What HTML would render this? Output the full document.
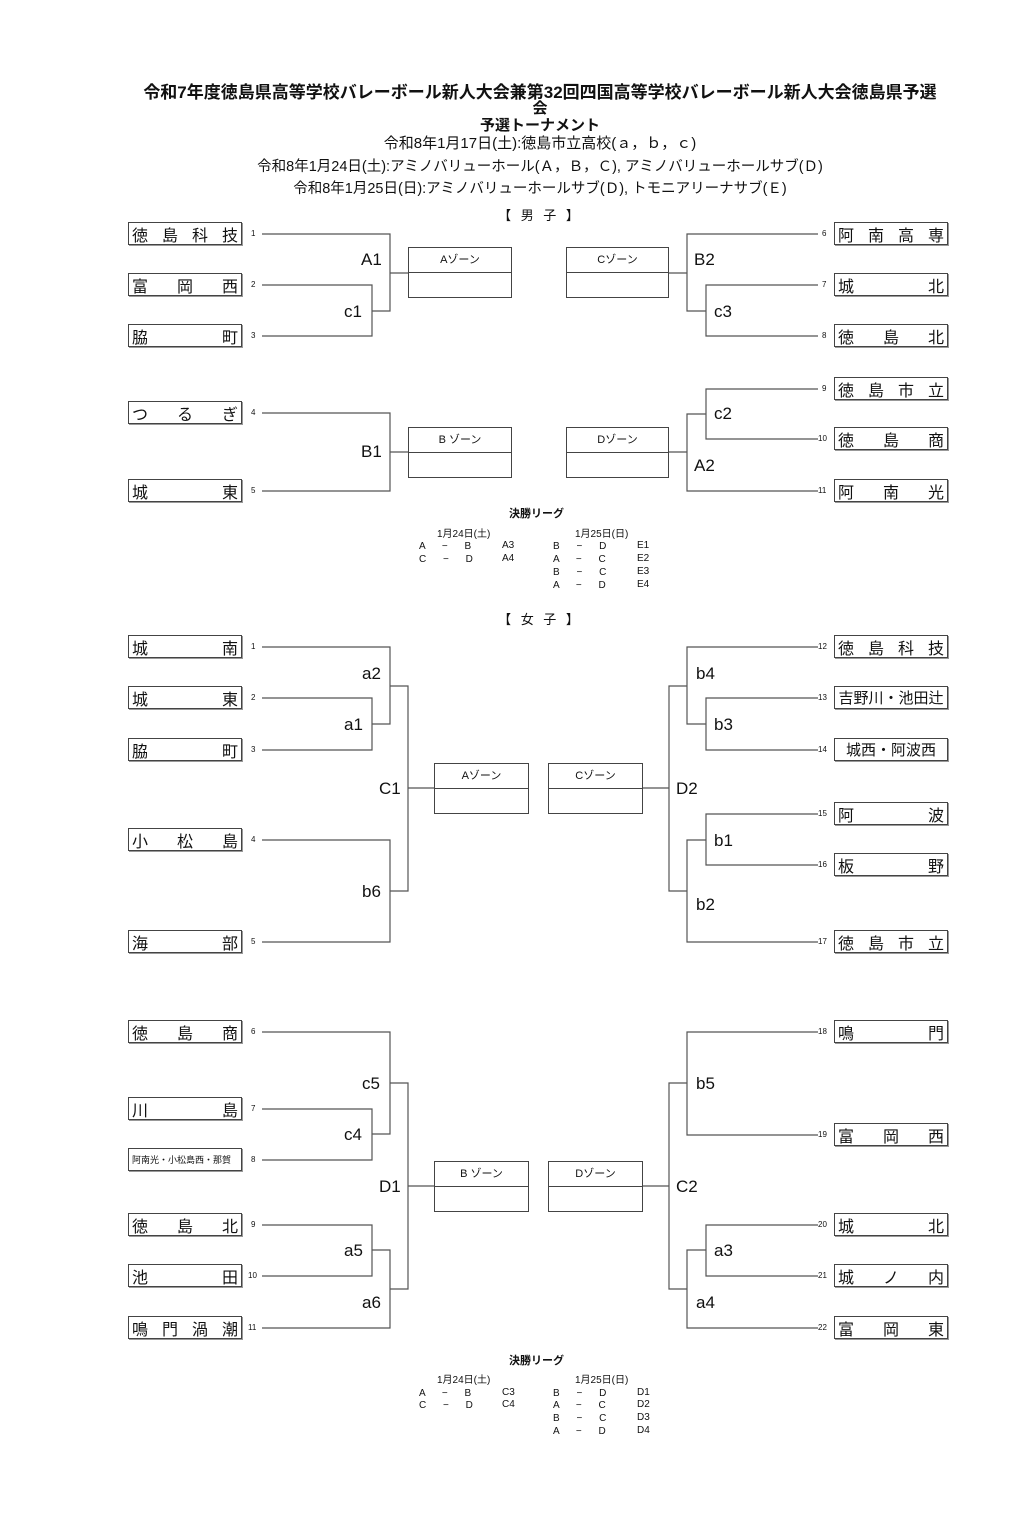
<!DOCTYPE html>
<html><head><meta charset="utf-8"><style>
body{margin:0;background:#fff;}
#p{position:relative;width:1018px;height:1513px;font-family:"Liberation Sans","Noto Sans CJK JP",sans-serif;color:#111;}
.t{position:absolute;white-space:nowrap;}
.c{position:absolute;left:0;width:1080px;text-align:center;white-space:nowrap;}
.b{position:absolute;width:114px;height:23px;border:1px solid #444;box-shadow:1px 1px 0 #999;display:flex;justify-content:space-between;align-items:center;padding:0 3px;box-sizing:border-box;font-size:16px;}
.n{position:absolute;font-size:8px;}
.l{position:absolute;font-size:17px;}
.z{position:absolute;border:1px solid #444;font-size:11px;text-align:center;box-sizing:border-box;}
.z div{height:50%;border-bottom:1px solid #444;line-height:24px;box-sizing:border-box;}
.s{position:absolute;font-size:10px;}
</style></head><body><div id="p">
<div class="c" style="top:78px;font-size:17px;font-weight:bold;">令和7年度徳島県高等学校バレーボール新人大会兼第32回四国高等学校バレーボール新人大会徳島県予選</div>
<div class="c" style="top:97px;font-size:15px;font-weight:bold;">会</div>
<div class="c" style="top:114px;font-size:15px;font-weight:bold;">予選トーナメント</div>
<div class="c" style="top:132px;font-size:15px;">令和8年1月17日(土):徳島市立高校(ａ，ｂ，ｃ)</div>
<div class="c" style="top:155px;font-size:14.5px;">令和8年1月24日(土):アミノバリューホール(Ａ，Ｂ，Ｃ), アミノバリューホールサブ(Ｄ)</div>
<div class="c" style="top:177px;font-size:14.5px;">令和8年1月25日(日):アミノバリューホールサブ(Ｄ), トモニアリーナサブ(Ｅ)</div>
<div class="c" style="top:205px;font-size:13px;letter-spacing:3px">【 男 子 】</div>
<div class="c" style="top:609px;font-size:13px;letter-spacing:3px">【 女 子 】</div>

<svg style="position:absolute;left:0;top:0" width="1018" height="1513" fill="none" stroke="#555" stroke-width="1.2">
<path d="M262 234H390V311H372M262 285H372V336H262M390 273H408"/>
<path d="M262 413H390V491H262M390 452H408"/>
<path d="M818 234H687V311H706M818 285H706V336H818M687 273H669"/>
<path d="M818 389H706V439H818M706 414H687V491H818M687 452H669"/>
<path d="M262 647H390V724H372M262 698H372V750H262"/>
<path d="M262 840H390V942H262"/>
<path d="M390 686H408V891H390M408 788H434"/>
<path d="M818 647H687V724H706M818 698H706V750H818"/>
<path d="M818 814H706V865H818M706 840H687V942H818"/>
<path d="M687 686H669V891H687M669 788H643"/>
<path d="M262 1032H390V1134H372M262 1109H372V1160H262"/>
<path d="M262 1225H372V1276H262M372 1250H390V1328H262"/>
<path d="M390 1083H408V1289H390M408 1186H434"/>
<path d="M818 1032H687V1135H818"/>
<path d="M818 1225H706V1276H818M706 1250H687V1328H818"/>
<path d="M687 1083H669V1289H687M669 1186H643"/>
</svg>

<div class="b" style="left:128px;top:222px"><span>徳</span><span>島</span><span>科</span><span>技</span></div>
<div class="b" style="left:128px;top:273px"><span>富</span><span>岡</span><span>西</span></div>
<div class="b" style="left:128px;top:324px"><span>脇</span><span>町</span></div>
<div class="b" style="left:128px;top:401px"><span>つ</span><span>る</span><span>ぎ</span></div>
<div class="b" style="left:128px;top:479px"><span>城</span><span>東</span></div>
<div class="n" style="left:251px;top:229px">1</div><div class="n" style="left:251px;top:280px">2</div><div class="n" style="left:251px;top:331px">3</div><div class="n" style="left:251px;top:408px">4</div><div class="n" style="left:251px;top:486px">5</div>
<div class="b" style="left:834px;top:222px"><span>阿</span><span>南</span><span>高</span><span>専</span></div>
<div class="b" style="left:834px;top:273px"><span>城</span><span>北</span></div>
<div class="b" style="left:834px;top:324px"><span>徳</span><span>島</span><span>北</span></div>
<div class="b" style="left:834px;top:377px"><span>徳</span><span>島</span><span>市</span><span>立</span></div>
<div class="b" style="left:834px;top:427px"><span>徳</span><span>島</span><span>商</span></div>
<div class="b" style="left:834px;top:479px"><span>阿</span><span>南</span><span>光</span></div>
<div class="n" style="left:822px;top:229px">6</div><div class="n" style="left:822px;top:280px">7</div><div class="n" style="left:822px;top:331px">8</div><div class="n" style="left:822px;top:384px">9</div><div class="n" style="left:818px;top:434px">10</div><div class="n" style="left:818px;top:486px">11</div>
<div class="l" style="left:361px;top:250px">A1</div><div class="l" style="left:344px;top:302px">c1</div><div class="l" style="left:361px;top:442px">B1</div>
<div class="l" style="left:694px;top:250px">B2</div><div class="l" style="left:714px;top:302px">c3</div><div class="l" style="left:714px;top:404px">c2</div><div class="l" style="left:694px;top:456px">A2</div>
<div class="z" style="left:408px;top:247px;width:104px;height:51px"><div>Aゾーン</div></div>
<div class="z" style="left:566px;top:247px;width:103px;height:51px"><div>Cゾーン</div></div>
<div class="z" style="left:408px;top:427px;width:104px;height:51px"><div>B ゾーン</div></div>
<div class="z" style="left:566px;top:427px;width:103px;height:51px"><div>Dゾーン</div></div>

<div class="t" style="left:509px;top:505px;font-size:11px;font-weight:bold">決勝リーグ</div>
<div class="s" style="left:437px;top:525px">1月24日(土)</div><div class="s" style="left:575px;top:525px">1月25日(日)</div>
<div class="s" style="left:419px;top:541px;word-spacing:14px">A − B</div><div class="s" style="left:502px;top:540px">A3</div>
<div class="s" style="left:419px;top:554px;word-spacing:14px">C − D</div><div class="s" style="left:502px;top:553px">A4</div>
<div class="s" style="left:553px;top:541px;word-spacing:14px">B − D</div><div class="s" style="left:637px;top:540px">E1</div>
<div class="s" style="left:553px;top:554px;word-spacing:14px">A − C</div><div class="s" style="left:637px;top:553px">E2</div>
<div class="s" style="left:553px;top:567px;word-spacing:14px">B − C</div><div class="s" style="left:637px;top:566px">E3</div>
<div class="s" style="left:553px;top:580px;word-spacing:14px">A − D</div><div class="s" style="left:637px;top:579px">E4</div>

<div class="b" style="left:128px;top:635px"><span>城</span><span>南</span></div>
<div class="b" style="left:128px;top:686px"><span>城</span><span>東</span></div>
<div class="b" style="left:128px;top:738px"><span>脇</span><span>町</span></div>
<div class="b" style="left:128px;top:828px"><span>小</span><span>松</span><span>島</span></div>
<div class="b" style="left:128px;top:930px"><span>海</span><span>部</span></div>
<div class="n" style="left:251px;top:642px">1</div><div class="n" style="left:251px;top:693px">2</div><div class="n" style="left:251px;top:745px">3</div><div class="n" style="left:251px;top:835px">4</div><div class="n" style="left:251px;top:937px">5</div>
<div class="b" style="left:834px;top:635px"><span>徳</span><span>島</span><span>科</span><span>技</span></div>
<div class="b" style="left:834px;top:686px;font-size:15px;justify-content:center">吉野川・池田辻</div>
<div class="b" style="left:834px;top:738px;font-size:15px;justify-content:center">城西・阿波西</div>
<div class="b" style="left:834px;top:802px"><span>阿</span><span>波</span></div>
<div class="b" style="left:834px;top:853px"><span>板</span><span>野</span></div>
<div class="b" style="left:834px;top:930px"><span>徳</span><span>島</span><span>市</span><span>立</span></div>
<div class="n" style="left:818px;top:642px">12</div><div class="n" style="left:818px;top:693px">13</div><div class="n" style="left:818px;top:745px">14</div><div class="n" style="left:818px;top:809px">15</div><div class="n" style="left:818px;top:860px">16</div><div class="n" style="left:818px;top:937px">17</div>
<div class="l" style="left:362px;top:664px">a2</div><div class="l" style="left:344px;top:715px">a1</div><div class="l" style="left:379px;top:779px">C1</div><div class="l" style="left:362px;top:882px">b6</div>
<div class="l" style="left:696px;top:664px">b4</div><div class="l" style="left:714px;top:715px">b3</div><div class="l" style="left:676px;top:779px">D2</div><div class="l" style="left:714px;top:831px">b1</div><div class="l" style="left:696px;top:895px">b2</div>
<div class="z" style="left:434px;top:763px;width:95px;height:51px"><div>Aゾーン</div></div>
<div class="z" style="left:548px;top:763px;width:95px;height:51px"><div>Cゾーン</div></div>

<div class="b" style="left:128px;top:1020px"><span>徳</span><span>島</span><span>商</span></div>
<div class="b" style="left:128px;top:1097px"><span>川</span><span>島</span></div>
<div class="b" style="left:128px;top:1148px;font-size:9px;justify-content:flex-start">阿南光・小松島西・那賀</div>
<div class="b" style="left:128px;top:1213px"><span>徳</span><span>島</span><span>北</span></div>
<div class="b" style="left:128px;top:1264px"><span>池</span><span>田</span></div>
<div class="b" style="left:128px;top:1316px"><span>鳴</span><span>門</span><span>渦</span><span>潮</span></div>
<div class="n" style="left:251px;top:1027px">6</div><div class="n" style="left:251px;top:1104px">7</div><div class="n" style="left:251px;top:1155px">8</div><div class="n" style="left:251px;top:1220px">9</div><div class="n" style="left:248px;top:1271px">10</div><div class="n" style="left:248px;top:1323px">11</div>
<div class="b" style="left:834px;top:1020px"><span>鳴</span><span>門</span></div>
<div class="b" style="left:834px;top:1123px"><span>富</span><span>岡</span><span>西</span></div>
<div class="b" style="left:834px;top:1213px"><span>城</span><span>北</span></div>
<div class="b" style="left:834px;top:1264px"><span>城</span><span>ノ</span><span>内</span></div>
<div class="b" style="left:834px;top:1316px"><span>富</span><span>岡</span><span>東</span></div>
<div class="n" style="left:818px;top:1027px">18</div><div class="n" style="left:818px;top:1130px">19</div><div class="n" style="left:818px;top:1220px">20</div><div class="n" style="left:818px;top:1271px">21</div><div class="n" style="left:818px;top:1323px">22</div>
<div class="l" style="left:362px;top:1074px">c5</div><div class="l" style="left:344px;top:1125px">c4</div><div class="l" style="left:379px;top:1177px">D1</div><div class="l" style="left:344px;top:1241px">a5</div><div class="l" style="left:362px;top:1293px">a6</div>
<div class="l" style="left:696px;top:1074px">b5</div><div class="l" style="left:676px;top:1177px">C2</div><div class="l" style="left:714px;top:1241px">a3</div><div class="l" style="left:696px;top:1293px">a4</div>
<div class="z" style="left:434px;top:1161px;width:95px;height:51px"><div>B ゾーン</div></div>
<div class="z" style="left:548px;top:1161px;width:95px;height:51px"><div>Dゾーン</div></div>

<div class="t" style="left:509px;top:1352px;font-size:11px;font-weight:bold">決勝リーグ</div>
<div class="s" style="left:437px;top:1371px">1月24日(土)</div><div class="s" style="left:575px;top:1371px">1月25日(日)</div>
<div class="s" style="left:419px;top:1388px;word-spacing:14px">A − B</div><div class="s" style="left:502px;top:1387px">C3</div>
<div class="s" style="left:419px;top:1400px;word-spacing:14px">C − D</div><div class="s" style="left:502px;top:1399px">C4</div>
<div class="s" style="left:553px;top:1388px;word-spacing:14px">B − D</div><div class="s" style="left:637px;top:1387px">D1</div>
<div class="s" style="left:553px;top:1400px;word-spacing:14px">A − C</div><div class="s" style="left:637px;top:1399px">D2</div>
<div class="s" style="left:553px;top:1413px;word-spacing:14px">B − C</div><div class="s" style="left:637px;top:1412px">D3</div>
<div class="s" style="left:553px;top:1426px;word-spacing:14px">A − D</div><div class="s" style="left:637px;top:1425px">D4</div>
</div></body></html>
